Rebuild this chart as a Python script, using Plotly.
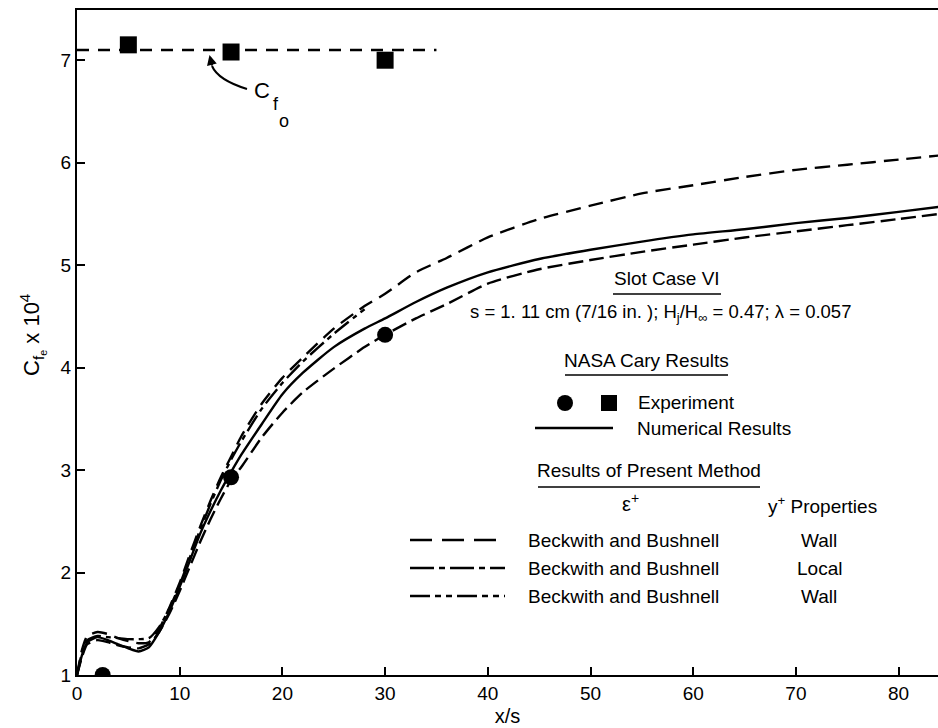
import plotly.graph_objects as go

# ---------------- data ----------------
x_grid = [0, 0.5, 1, 2, 3, 4, 5, 6, 7, 8, 9, 10, 11, 12, 13, 14, 15, 16, 18, 20,
          22, 25, 28, 30, 33, 36, 40, 45, 50, 55, 60, 65, 70, 75, 80, 84]

numerical = [1.0, 1.2, 1.32, 1.37, 1.34, 1.30, 1.26, 1.23, 1.27, 1.42, 1.62, 1.86, 2.12,
             2.38, 2.6, 2.8, 2.98, 3.15, 3.45, 3.74, 3.95, 4.2, 4.38, 4.48, 4.64, 4.78,
             4.93, 5.06, 5.15, 5.23, 5.30, 5.35, 5.41, 5.46, 5.52, 5.57]

wall_long = [1.0, 1.25, 1.38, 1.42, 1.40, 1.36, 1.33, 1.31, 1.32, 1.45, 1.66, 1.9, 2.18,
             2.45, 2.7, 2.93, 3.13, 3.33, 3.65, 3.9, 4.1, 4.38, 4.6, 4.72, 4.93, 5.07,
             5.27, 5.45, 5.58, 5.7, 5.78, 5.86, 5.93, 5.98, 6.03, 6.07]

x_local = [0, 0.5, 1, 2, 3, 4, 5, 6, 7, 8, 9, 10, 11, 12, 13, 14, 15, 16, 18, 20, 22, 25, 28]
local = [1.0, 1.22, 1.34, 1.38, 1.37, 1.36, 1.35, 1.35, 1.36, 1.47, 1.65, 1.88, 2.15,
         2.42, 2.67, 2.9, 3.1, 3.28, 3.6, 3.85, 4.06, 4.33, 4.57]

wall_short = [1.0, 1.18, 1.3, 1.34, 1.32, 1.29, 1.27, 1.26, 1.3, 1.42, 1.6, 1.82, 2.06,
              2.3, 2.52, 2.72, 2.9, 3.03, 3.32, 3.56, 3.76, 3.99, 4.2, 4.32, 4.48, 4.62,
              4.82, 4.96, 5.05, 5.13, 5.2, 5.27, 5.33, 5.39, 5.45, 5.5]

exp_circle_x = [2.5, 15, 30]
exp_circle_y = [1.0, 2.93, 4.32]
exp_square_x = [5, 15, 30]
exp_square_y = [7.15, 7.08, 7.0]

cfo_x = [0, 35]
cfo_y = [7.1, 7.1]

x_ticks = [0, 10, 20, 30, 40, 50, 60, 70, 80]
y_ticks = [1, 2, 3, 4, 5, 6, 7]

FONT = "Liberation Sans, Arial, sans-serif"

# ---------------- layout geometry (pixels) ----------------
W, H = 938, 728
L, R, T, B = 77, 0, 10, 53
PW, PH = W - L - R, H - T - B


def px(xp):
    return (xp - L) / PW


def py(yp):
    return (H - B - yp) / PH


fig = go.Figure()

line_w = 2.4
fig.add_trace(go.Scatter(x=x_grid, y=numerical, mode="lines", line=dict(color="black", width=line_w, shape="spline", smoothing=0.6)))
fig.add_trace(go.Scatter(x=x_grid, y=wall_long, mode="lines", line=dict(color="black", width=line_w, dash="15px,8px", shape="spline", smoothing=0.6)))
fig.add_trace(go.Scatter(x=x_local, y=local, mode="lines", line=dict(color="black", width=line_w, dash="18px,5px,5px,5px", shape="spline", smoothing=0.6)))
fig.add_trace(go.Scatter(x=x_grid, y=wall_short, mode="lines", line=dict(color="black", width=line_w, dash="15px,6px", shape="spline", smoothing=0.6)))
fig.add_trace(go.Scatter(x=cfo_x, y=cfo_y, mode="lines", line=dict(color="black", width=line_w, dash="12px,9px")))
fig.add_trace(go.Scatter(x=exp_circle_x, y=exp_circle_y, mode="markers", marker=dict(symbol="circle", size=16, color="black")))
fig.add_trace(go.Scatter(x=exp_square_x, y=exp_square_y, mode="markers", marker=dict(symbol="square", size=17, color="black")))

fig.update_layout(
    width=W, height=H, showlegend=False,
    margin=dict(l=L, r=R, t=T, b=B),
    paper_bgcolor="white", plot_bgcolor="white",
    font=dict(family=FONT, size=18, color="black"),
    xaxis=dict(range=[0, PW / 10.27], tickvals=x_ticks, ticks="inside", ticklen=8, tickwidth=1.5,
               tickcolor="black", showline=True, linecolor="black", linewidth=2, mirror=True,
               showgrid=False, zeroline=False, tickfont=dict(family=FONT, size=19),
               title=dict(text="x/s", font=dict(family=FONT, size=20), standoff=6)),
    yaxis=dict(range=[1, 7.49], tickvals=y_ticks, ticks="inside", ticklen=8, tickwidth=1.5,
               tickcolor="black", showline=True, linecolor="black", linewidth=2,
               showgrid=False, zeroline=False, tickfont=dict(family=FONT, size=19)),
)

ann = []


def text(xp, yp, s, size=18, xanchor="center"):
    ann.append(dict(x=px(xp), y=py(yp), xref="paper", yref="paper", text=s, showarrow=False,
                    xanchor=xanchor, yanchor="middle", font=dict(family=FONT, size=size, color="black")))


# y-axis title
ann.append(dict(x=px(32), y=py(335), xref="paper", yref="paper", showarrow=False, textangle=-90,
                text="C<sub>f<sub>e</sub></sub> x 10<sup>4</sup>", xanchor="center", yanchor="middle",
                font=dict(family=FONT, size=22, color="black")))

# C_fo label with curved arrow
text(262, 90, "C", size=22)
text(276, 104, "f", size=18)
text(284, 121, "o", size=18)
ann.append(dict(x=12.9, y=7.05, xref="x", yref="y", ax=3, ay=12, showarrow=True,
                arrowhead=2, arrowsize=1, arrowwidth=2, arrowcolor="black", text=""))

# legend block
text(667, 278, "Slot Case VI", size=19)
text(660, 313, "s = 1. 11 cm (7/16 in. ); H<sub>j</sub>/H<sub>∞</sub> = 0.47; λ = 0.057", size=18.5)
text(646, 360, "NASA Cary Results", size=19)
text(636, 402, "Experiment", xanchor="left", size=19)
text(635, 428, "Numerical Results", xanchor="left", size=19)
text(649, 470, "Results of Present Method", size=19)
text(630, 502, "ε<sup>+</sup>", size=20)
text(822, 505, "y<sup>+</sup> Properties", size=19)
for yy, prop in [(540, "Wall"), (568, "Local"), (596, "Wall")]:
    text(623, yy, "Beckwith and Bushnell", size=19)
    text(819, yy, prop, size=19)

shapes = []
for x0, x1, yy in [(613, 721, 294), (565, 728, 375), (538, 760, 487)]:
    shapes.append(dict(type="line", xref="paper", yref="paper", x0=px(x0), x1=px(x1), y0=py(yy), y1=py(yy),
                       line=dict(color="black", width=1.5)))
# curved arrow shaft for C_fo
shapes.append(dict(type="path", xref="paper", yref="paper",
                   path=f"M {px(247)},{py(89)} Q {px(218)},{py(80)} {px(212)},{py(66)}",
                   line=dict(color="black", width=2)))
# legend samples
shapes.append(dict(type="line", xref="paper", yref="paper", x0=px(535), x1=px(613), y0=py(428), y1=py(428),
                   line=dict(color="black", width=2.4)))
for yy, d in [(540, "22px,10px"), (568, "24px,5px,6px,5px"), (596, "20px,5px,6px,5px,6px,5px")]:
    shapes.append(dict(type="line", xref="paper", yref="paper", x0=px(410), x1=px(505), y0=py(yy), y1=py(yy),
                       line=dict(color="black", width=2.4, dash=d)))
shapes.append(dict(type="circle", xref="paper", yref="paper", x0=px(557), x1=px(573), y0=py(395), y1=py(411),
                   fillcolor="black", line=dict(color="black", width=0)))
shapes.append(dict(type="rect", xref="paper", yref="paper", x0=px(601), x1=px(617), y0=py(395), y1=py(411),
                   fillcolor="black", line=dict(color="black", width=0)))

fig.update_layout(annotations=ann, shapes=shapes)
fig.write_html("out.html")
